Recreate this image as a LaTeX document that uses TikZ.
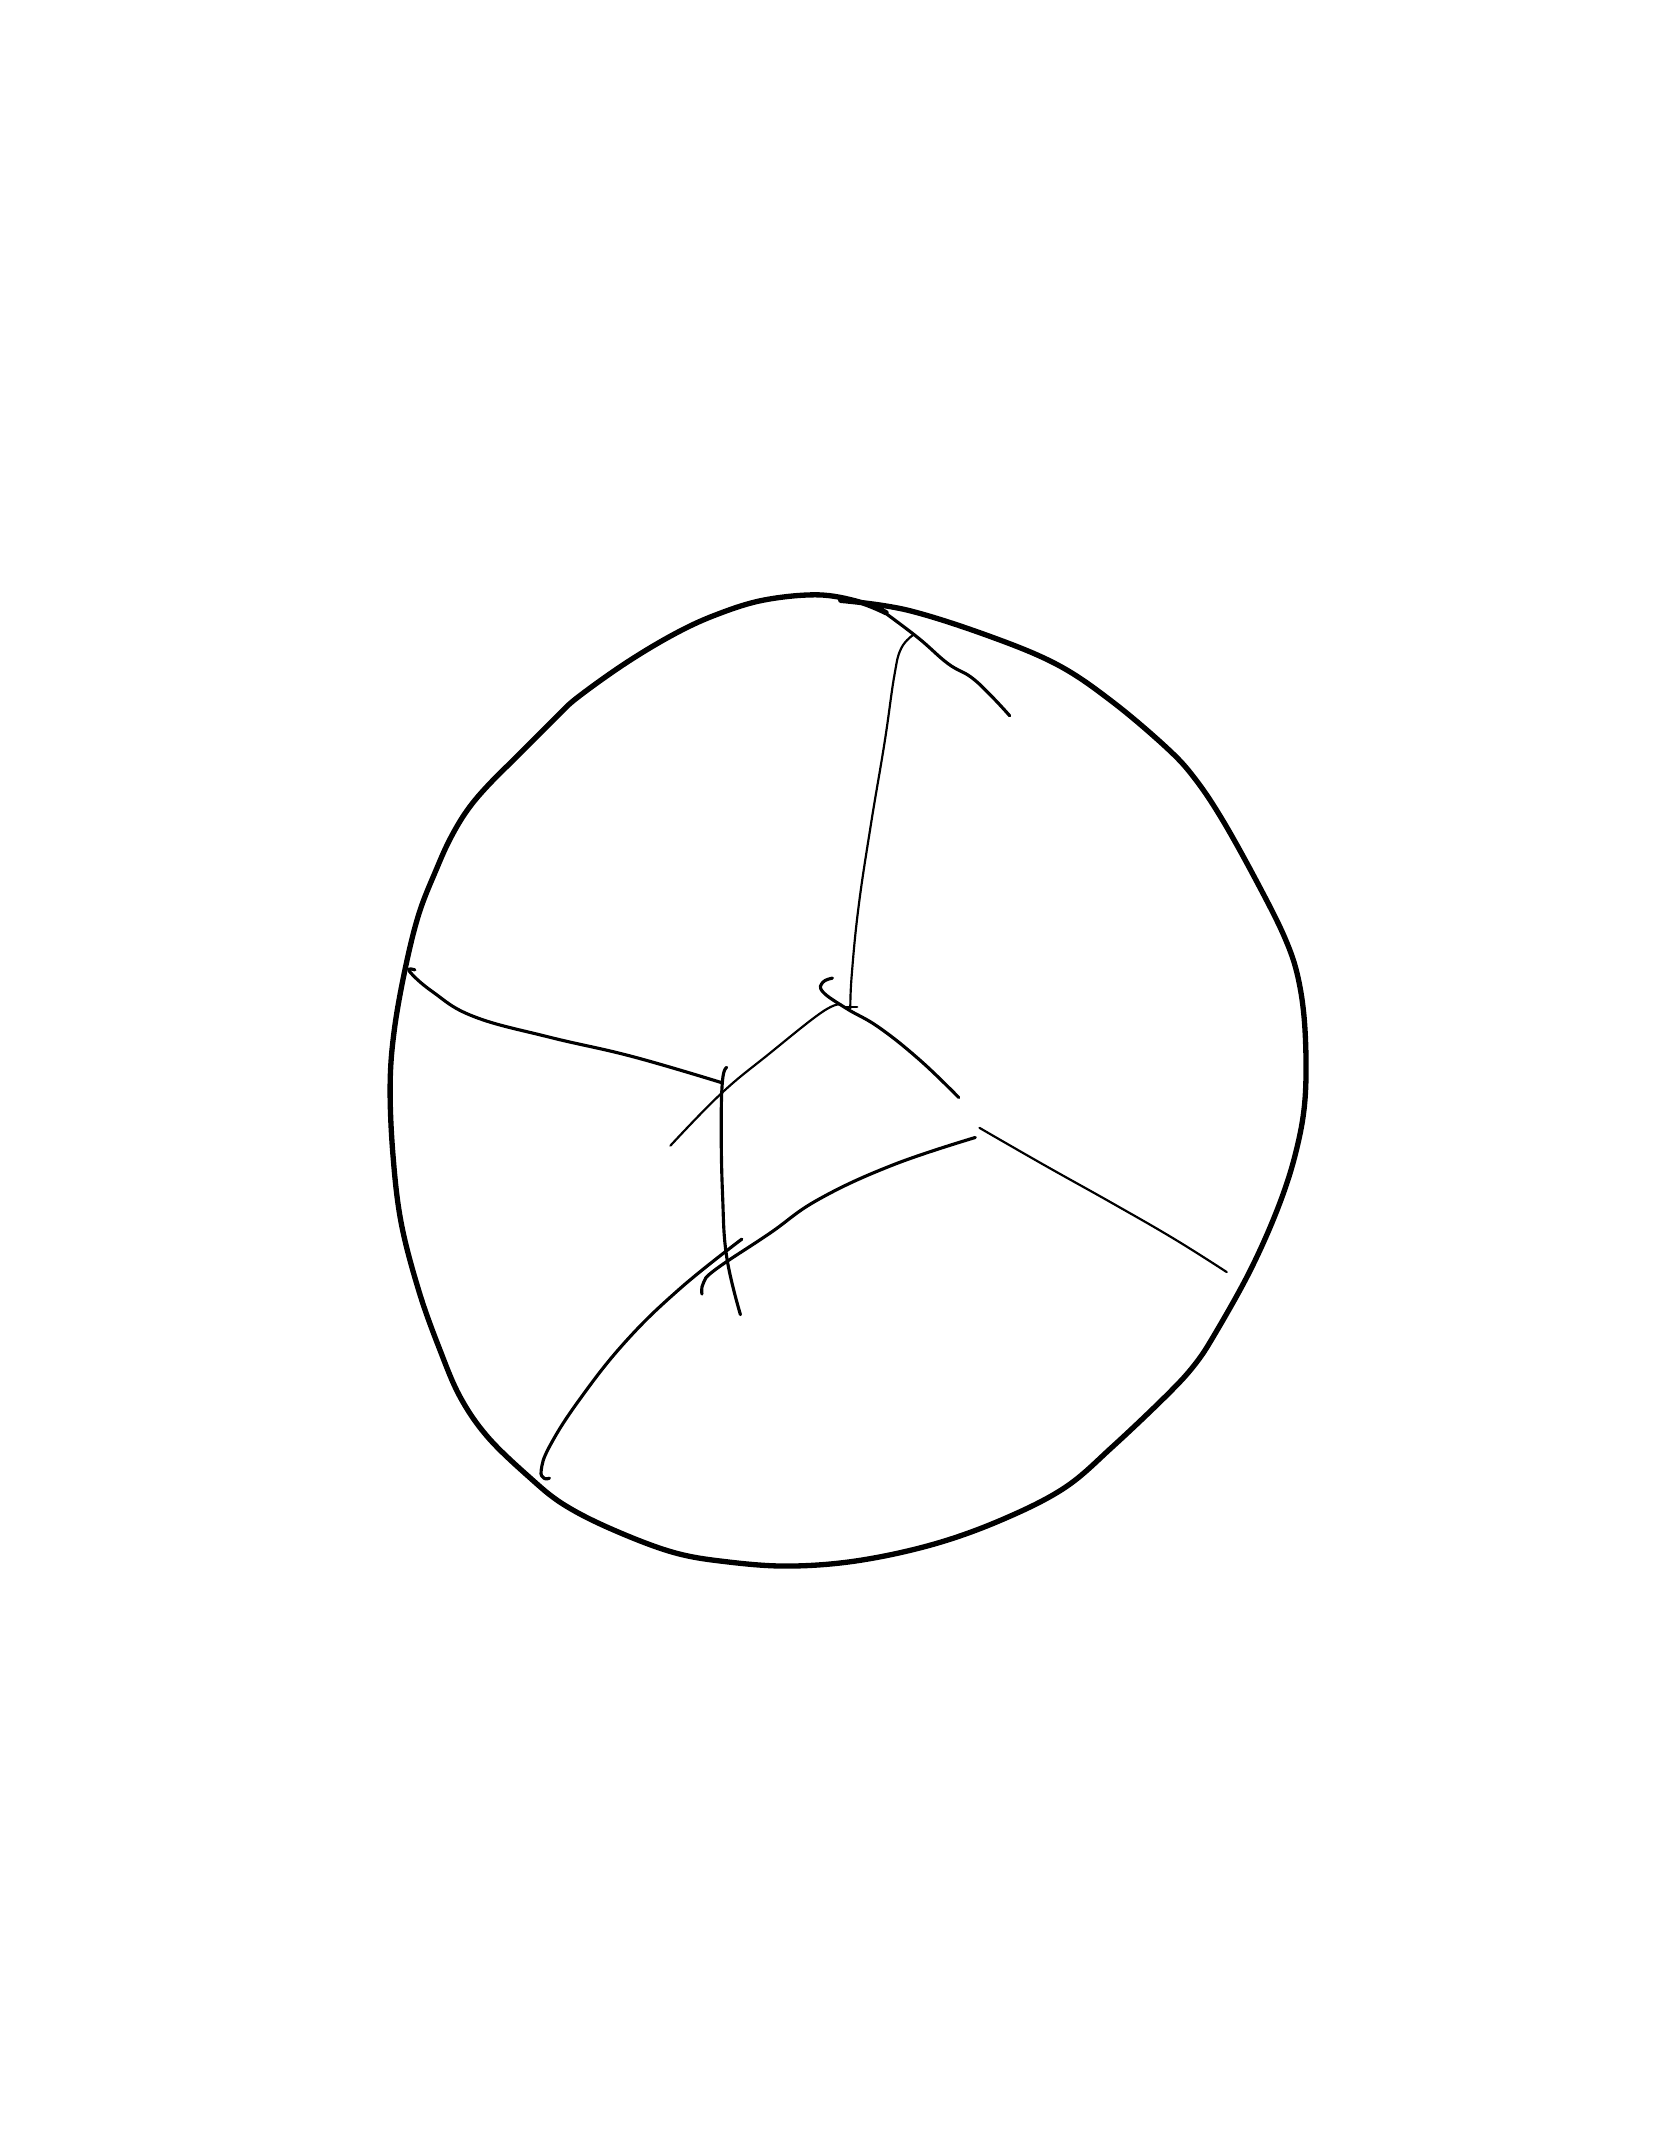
\documentclass[tikz,border=0pt]{standalone}
\begin{document}
\begin{tikzpicture}[x=0.01cm, y=-0.01cm, line cap=round, line join=round,
        rim/.style={line width=1.1pt},
        seam/.style={line width=0.65pt},
        fine/.style={line width=0.45pt}]
        \useasboundingbox (0,0) rectangle (1214,1568);
        % outer rim, first stroke (left and top)
        \draw[rim] plot[smooth, tension=0.6] coordinates {(645,446) (625,438) (595,433) (555,437) (520,448) (490,462) (455,483) (420,508) (405,522) (380,547) (355,572) (340,590) (328,610) (318,632) (305,665) (295,705) (287,750) (284,790) (286,840) (292,890) (305,940) (320,982) (335,1017) (355,1046) (385,1075) (410,1095) (445,1113) (490,1130) (530,1137) (575,1140) (625,1136) (680,1124) (730,1106) (775,1083) (810,1053) (850,1015) (870,993) (885,970) (910,925) (930,880) (943,840) (950,800) (950,750) (945,712) (935,682) (915,642) (890,597) (870,567) (850,545) (810,511) (770,484) (720,463) (660,444) (612,437)};
        % top seam running out of the rim
        \draw[seam] plot[smooth, tension=0.7] coordinates {(640,443) (668,464) (690,483) (707,493) (722,507) (735,521)};
        % seam from top down to the centre
        \draw[fine] plot[smooth, tension=0.7] coordinates {(665,462) (656,472) (651,492) (644,540) (634,600) (625,660) (620,710) (619,734)};
        \draw[fine] (615,733) -- (624,733);
        % hook at the centre and the seam to the right
        \draw[seam] plot[smooth, tension=0.7] coordinates {(606,712) (599,715) (599,722) (616,734) (640,748) (670,772) (698,799)};
        % seam from the centre down to the left
        \draw[fine] plot[smooth, tension=0.7] coordinates {(612,731) (598,737) (560,767) (525,796) (488,834)};
        % seam from the left rim
        \draw[seam] plot[smooth, tension=0.7] coordinates {(302,706) (298,707) (315,722) (345,740) (400,755) (460,769) (525,788)};
        % middle vertical seam
        \draw[seam] plot[smooth, tension=0.7] coordinates {(529,777) (526,786) (525,820) (526,870) (529,915) (539,957)};
        % lower seam with hook
        \draw[seam] plot[smooth, tension=0.7] coordinates {(710,828) (650,848) (596,873) (560,898) (521,924) (512,934) (511,942)};
        % long seam down to the bottom rim
        \draw[seam] plot[smooth, tension=0.7] coordinates {(540,902) (495,938) (455,977) (421,1020) (400,1053) (394,1070) (396,1076) (400,1076)};
        % seam out to the right rim
        \draw[fine] plot[smooth, tension=0.7] coordinates {(713,821) (760,848) (810,876) (855,902) (893,926)};
\end{tikzpicture}
\end{document}
